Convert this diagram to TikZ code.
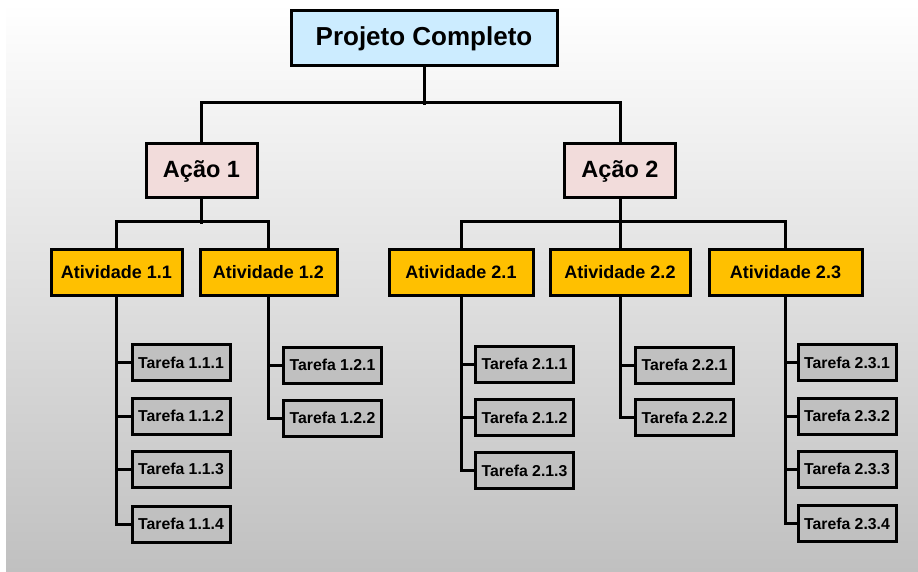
\documentclass[tikz,border=0pt]{standalone}
\usepackage{fontspec}
\setmainfont{Liberation Sans}
\definecolor{projblue}{HTML}{CCECFF}
\definecolor{acaopink}{HTML}{F2DCDB}
\definecolor{ativorange}{HTML}{FFC000}
\definecolor{tarefagray}{HTML}{C0C0C0}
\definecolor{bgbottom}{HTML}{C0C0C0}
\tikzset{
  box/.style={draw=black, line width=3pt, inner sep=0pt, font=\bfseries},
  projbox/.style={box, fill=projblue, minimum width=266pt, minimum height=55pt, font=\bfseries\fontsize{26}{30}\selectfont},
  acaobox/.style={box, fill=acaopink, minimum width=111pt, minimum height=54pt, font=\bfseries\fontsize{23.5}{27}\selectfont},
  ativbox/.style={box, fill=ativorange, minimum height=46pt, font=\bfseries\fontsize{18}{21}\selectfont},
  tarbox/.style={box, fill=tarefagray, minimum width=98pt, minimum height=36pt, font=\bfseries\fontsize{15.8}{18}\selectfont},
  conn/.style={draw=black, line width=3pt}
}
\begin{document}
\begin{tikzpicture}[x=1pt,y=-1pt]
\useasboundingbox (0,0) rectangle (918,572);
\shade[top color=white, bottom color=bgbottom] (6,3) rectangle (918,572);

% level 0
\node[projbox] (proj) at (424,38.5) {Projeto Completo};
% level 1
\node[acaobox] (ac1) at (201.5,171) {Ação 1};
\node[acaobox] (ac2) at (620,171) {Ação 2};
% level 2
\node[ativbox, minimum width=131pt] (at11) at (116.5,272) {Atividade 1.1};
\node[ativbox, minimum width=137pt] (at12) at (268.5,272) {Atividade 1.2};
\node[ativbox, minimum width=144pt] (at21) at (461,272) {Atividade 2.1};
\node[ativbox, minimum width=140pt] (at22) at (620,272) {Atividade 2.2};
\node[ativbox, minimum width=153pt] (at23) at (785.5,272) {Atividade 2.3};
% level 3
\node[tarbox] (t111) at (181,362.5) {Tarefa 1.1.1};
\node[tarbox] (t112) at (181,416) {Tarefa 1.1.2};
\node[tarbox] (t113) at (181,469) {Tarefa 1.1.3};
\node[tarbox] (t114) at (181,524) {Tarefa 1.1.4};
\node[tarbox] (t121) at (332.5,365) {Tarefa 1.2.1};
\node[tarbox] (t122) at (332.5,418) {Tarefa 1.2.2};
\node[tarbox] (t211) at (524.5,364) {Tarefa 2.1.1};
\node[tarbox] (t212) at (524.5,417.5) {Tarefa 2.1.2};
\node[tarbox] (t213) at (524.5,470.5) {Tarefa 2.1.3};
\node[tarbox] (t221) at (684.5,365) {Tarefa 2.2.1};
\node[tarbox] (t222) at (684.5,417.5) {Tarefa 2.2.2};
\node[tarbox] (t231) at (847,362.5) {Tarefa 2.3.1};
\node[tarbox] (t232) at (847,416) {Tarefa 2.3.2};
\node[tarbox] (t233) at (847,469) {Tarefa 2.3.3};
\node[tarbox] (t234) at (847,523.5) {Tarefa 2.3.4};

% connectors
\draw[conn] (proj.south) -- ++(0,38);
\draw[conn] (ac1.north) -- ++(0,-40) -| (ac2.north);
\draw[conn] (ac1.south) -- ++(0,25);
\draw[conn] (at11.north) -- ++(0,-26) -| (at12.north);
\draw[conn] (ac2.south) -- (at22.north);
\draw[conn] (at21.north) -- ++(0,-26) -| (at23.north);

\draw[conn] (at11.south) |- (t114.west);
\draw[conn] (t111.west) -- (at11.south |- t111.west);
\draw[conn] (t112.west) -- (at11.south |- t112.west);
\draw[conn] (t113.west) -- (at11.south |- t113.west);

\draw[conn] (at12.south) |- (t122.west);
\draw[conn] (t121.west) -- (at12.south |- t121.west);

\draw[conn] (at21.south) |- (t213.west);
\draw[conn] (t211.west) -- (at21.south |- t211.west);
\draw[conn] (t212.west) -- (at21.south |- t212.west);

\draw[conn] (at22.south) |- (t222.west);
\draw[conn] (t221.west) -- (at22.south |- t221.west);

\draw[conn] (at23.south) |- (t234.west);
\draw[conn] (t231.west) -- (at23.south |- t231.west);
\draw[conn] (t232.west) -- (at23.south |- t232.west);
\draw[conn] (t233.west) -- (at23.south |- t233.west);
\end{tikzpicture}
\end{document}
